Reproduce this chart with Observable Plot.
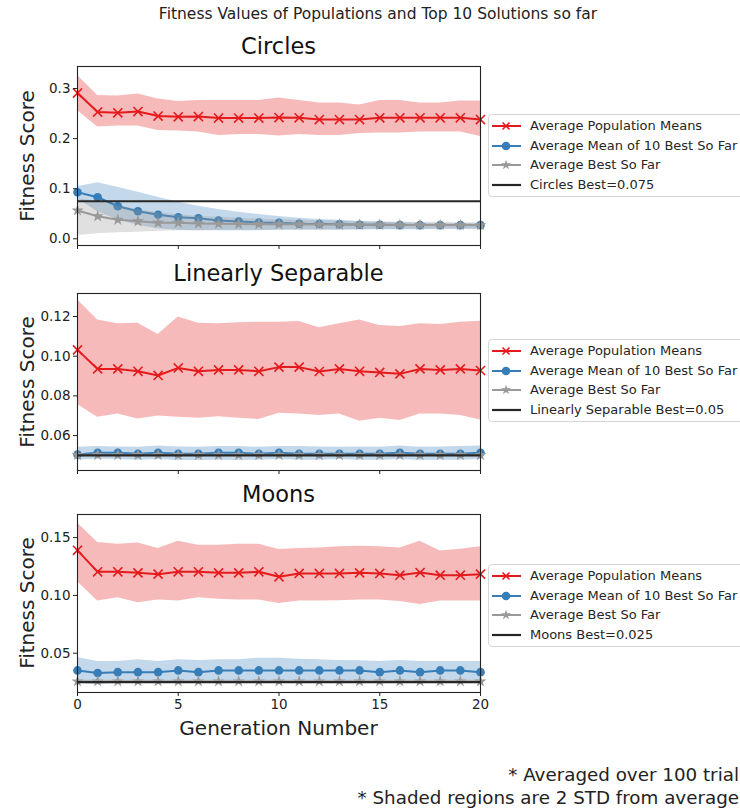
<!DOCTYPE html>
<html>
<head>
<meta charset="utf-8">
<script src="https://cdn.jsdelivr.net/npm/d3@7"></script>
<script src="https://cdn.jsdelivr.net/npm/@observablehq/plot@0.6"></script>
<style>
  html, body { margin: 0; padding: 0; background: #fff; }
  body { width: 740px; height: 809px; overflow: hidden; font-family: "DejaVu Sans", sans-serif; color: #222; }
  #wrap { position: relative; width: 740px; height: 809px; overflow: hidden; }
  .abs { position: absolute; white-space: nowrap; }
  .legend { position: absolute; left: 488px; width: 262px; border: 1px solid #d6d6d6; border-radius: 4px; background: rgba(255,255,255,0.85); box-sizing: border-box; }
  .legend .row { position: absolute; left: 2px; height: 20px; font-size: 13px; line-height: 20px; color: #262626; white-space: nowrap; }
  .legend .row svg { position: absolute; left: 0; top: 0; }
  .legend .row span { position: absolute; left: 39px; top: 0; }
</style>
</head>
<body>
<div id="wrap"></div>
<script>
// ---------- data ----------
const generations = [0,1,2,3,4,5,6,7,8,9,10,11,12,13,14,15,16,17,18,19,20];
const xTicks = [0, 5, 10, 15, 20];

// Circles
const circPopMean  = [0.291,0.253,0.2515,0.254,0.245,0.2435,0.244,0.241,0.241,0.241,0.242,0.2415,0.238,0.238,0.238,0.2415,0.2415,0.2415,0.2415,0.2415,0.238];
const circPopUpper = [0.326,0.286,0.285,0.289,0.279,0.274,0.276,0.276,0.276,0.276,0.281,0.276,0.271,0.271,0.267,0.276,0.276,0.271,0.271,0.275,0.275];
const circPopLower = [0.256,0.223,0.225,0.225,0.216,0.215,0.213,0.206,0.208,0.208,0.205,0.208,0.206,0.206,0.210,0.211,0.211,0.213,0.213,0.213,0.204];
const circTopMean  = [0.093,0.083,0.065,0.055,0.048,0.043,0.041,0.0366,0.0346,0.0326,0.032,0.030,0.0295,0.029,0.028,0.028,0.0273,0.0273,0.0273,0.0273,0.0273];
const circTopUpper = [0.104,0.112,0.103,0.093,0.083,0.073,0.065,0.0585,0.053,0.0486,0.0446,0.041,0.0386,0.037,0.0346,0.033,0.032,0.031,0.030,0.030,0.030];
const circTopLower = [0.080,0.054,0.038,0.027,0.020,0.017,0.016,0.016,0.016,0.016,0.017,0.017,0.017,0.017,0.018,0.018,0.018,0.018,0.019,0.019,0.019];
const circBestMean  = [0.0566,0.045,0.038,0.035,0.032,0.032,0.0306,0.030,0.0295,0.029,0.029,0.029,0.0286,0.0283,0.028,0.028,0.0277,0.0277,0.0275,0.0275,0.0273];
const circBestUpper = [0.080,0.075,0.066,0.058,0.052,0.048,0.045,0.043,0.041,0.039,0.038,0.037,0.036,0.035,0.034,0.034,0.033,0.033,0.033,0.032,0.032];
const circBestLower = [0.0067,0.010,0.012,0.013,0.015,0.016,0.016,0.017,0.017,0.017,0.018,0.018,0.018,0.018,0.018,0.019,0.019,0.019,0.019,0.019,0.019];
const circOptimum = 0.075;

// Linearly Separable
const linPopMean  = [0.1032,0.0936,0.0936,0.0924,0.0903,0.0941,0.0924,0.0931,0.0931,0.0924,0.0945,0.0945,0.0923,0.0936,0.0924,0.0918,0.0911,0.0936,0.0931,0.0936,0.0928];
const linPopUpper = [0.1284,0.1183,0.1163,0.1166,0.1109,0.1197,0.1166,0.1163,0.1168,0.1171,0.1171,0.1175,0.1143,0.1163,0.1183,0.1155,0.1150,0.1163,0.1160,0.1171,0.1176];
const linPopLower = [0.0756,0.0692,0.0709,0.0684,0.0699,0.0692,0.0687,0.0695,0.0687,0.0681,0.0713,0.0709,0.0701,0.0709,0.0672,0.0687,0.0676,0.0709,0.0709,0.0701,0.0679];
const linTopMean  = [0.0505,0.0513,0.0513,0.0508,0.0513,0.0508,0.0508,0.0513,0.0513,0.0508,0.0513,0.0508,0.0508,0.0508,0.0508,0.0508,0.0513,0.0508,0.0508,0.0508,0.0513];
const linTopUpper = [0.0541,0.0545,0.0543,0.0541,0.0547,0.0543,0.0541,0.0545,0.0545,0.0541,0.0545,0.0545,0.0543,0.0541,0.0543,0.0541,0.0547,0.0541,0.0543,0.0545,0.0547];
const linTopLower = [0.0476,0.0481,0.0479,0.0476,0.0479,0.0474,0.0474,0.0476,0.0474,0.0476,0.0479,0.0476,0.0476,0.0479,0.0476,0.0476,0.0479,0.0474,0.0476,0.0476,0.0479];
const linBestMean  = [0.0502,0.0502,0.0502,0.0502,0.0502,0.0502,0.0502,0.0502,0.0502,0.0502,0.0502,0.0502,0.0502,0.0502,0.0502,0.0502,0.0502,0.0502,0.0502,0.0502,0.0502];
const linBestUpper = [0.0508,0.0508,0.0508,0.0508,0.0508,0.0508,0.0508,0.0508,0.0508,0.0508,0.0508,0.0508,0.0508,0.0508,0.0508,0.0508,0.0508,0.0508,0.0508,0.0508,0.0508];
const linBestLower = [0.0497,0.0497,0.0497,0.0497,0.0497,0.0497,0.0497,0.0497,0.0497,0.0497,0.0497,0.0497,0.0497,0.0497,0.0497,0.0497,0.0497,0.0497,0.0497,0.0497,0.0497];
const linOptimum = 0.05;

// Moons
const moonPopMean  = [0.139,0.1204,0.1204,0.1195,0.1184,0.1204,0.1204,0.1195,0.1195,0.1204,0.1161,0.119,0.119,0.119,0.1195,0.119,0.1175,0.1198,0.1175,0.1175,0.1184];
const moonPopUpper = [0.1626,0.1457,0.1443,0.1454,0.1405,0.1468,0.1434,0.1434,0.1443,0.1443,0.1397,0.1405,0.1411,0.1420,0.1425,0.1420,0.1411,0.1468,0.1385,0.1400,0.1420];
const moonPopLower = [0.1118,0.0951,0.0980,0.0937,0.0960,0.0951,0.0980,0.0966,0.0960,0.0960,0.0931,0.0951,0.0951,0.0954,0.0960,0.0960,0.0948,0.0922,0.0951,0.0951,0.0951];
const moonTopMean  = [0.0351,0.0328,0.0336,0.0336,0.0336,0.0351,0.0336,0.0351,0.0351,0.0351,0.0351,0.0351,0.0351,0.0351,0.0351,0.0336,0.0351,0.0336,0.0351,0.0351,0.0336];
const moonTopUpper = [0.0463,0.0428,0.0428,0.0443,0.0428,0.0443,0.0437,0.0443,0.0443,0.0457,0.0457,0.0448,0.0443,0.0437,0.0434,0.0428,0.0437,0.0428,0.0428,0.0428,0.0428];
const moonTopLower = [0.0241,0.0227,0.0241,0.0241,0.0241,0.0247,0.0244,0.0247,0.0247,0.0247,0.0247,0.0247,0.0247,0.0247,0.0247,0.0244,0.0247,0.0244,0.0247,0.0247,0.0247];
const moonBestMean  = [0.0256,0.0256,0.0256,0.0256,0.0256,0.0256,0.0256,0.0256,0.0256,0.0256,0.0256,0.0256,0.0256,0.0256,0.0256,0.0256,0.0256,0.0256,0.0256,0.0256,0.0256];
const moonBestUpper = [0.0266,0.0266,0.0266,0.0266,0.0266,0.0266,0.0266,0.0266,0.0266,0.0266,0.0266,0.0266,0.0266,0.0266,0.0266,0.0266,0.0266,0.0266,0.0266,0.0266,0.0266];
const moonBestLower = [0.0246,0.0246,0.0246,0.0246,0.0246,0.0246,0.0246,0.0246,0.0246,0.0246,0.0246,0.0246,0.0246,0.0246,0.0246,0.0246,0.0246,0.0246,0.0246,0.0246,0.0246];
const moonOptimum = 0.025;

const panelTitles = ["Circles", "Linearly Separable", "Moons"];
const seriesLabels = ["Average Population Means", "Average Mean of 10 Best So Far", "Average Best So Far"];
const yTicksCircles = [0.0, 0.1, 0.2, 0.3];
const yTicksLinear = [0.06, 0.08, 0.10, 0.12];
const yTicksMoons = [0.05, 0.10, 0.15];
const figTitle = "Fitness Values of Populations and Top 10 Solutions so far";
const yLabel = "Fitness Score";
const xLabel = "Generation Number";
const notes = ["* Averaged over 100 trial", "* Shaded regions are 2 STD from average"];

const RED = "#e41a1c", BLUE = "#377eb8", GRAY = "#999999", BLACK = "#262626";

// ---------- layout ----------
const FRAME_L = 77, FRAME_R = 480;
const panels = [
  { title: panelTitles[0], top: 66, bottom: 245, domain: [-0.0134, 0.344], ticks: yTicksCircles, fmt: d3.format(".1f"),
    pop: [circPopMean, circPopUpper, circPopLower], top10: [circTopMean, circTopUpper, circTopLower], best: [circBestMean, circBestUpper, circBestLower],
    opt: circOptimum, optLabel: "Circles Best=" + circOptimum, legendTop: 114, showX: false },
  { title: panelTitles[1], top: 293, bottom: 470, domain: [0.0424, 0.1316], ticks: yTicksLinear, fmt: d3.format(".2f"),
    pop: [linPopMean, linPopUpper, linPopLower], top10: [linTopMean, linTopUpper, linTopLower], best: [linBestMean, linBestUpper, linBestLower],
    opt: linOptimum, optLabel: "Linearly Separable Best=" + linOptimum, legendTop: 339, showX: false },
  { title: panelTitles[2], top: 514, bottom: 692, domain: [0.016, 0.170], ticks: yTicksMoons, fmt: d3.format(".2f"),
    pop: [moonPopMean, moonPopUpper, moonPopLower], top10: [moonTopMean, moonTopUpper, moonTopLower], best: [moonBestMean, moonBestUpper, moonBestLower],
    opt: moonOptimum, optLabel: "Moons Best=" + moonOptimum, legendTop: 564, showX: true }
];

const wrap = document.getElementById("wrap");

function addText(txt, style) {
  const d = document.createElement("div");
  d.className = "abs";
  d.textContent = txt;
  Object.assign(d.style, style);
  wrap.appendChild(d);
  return d;
}

// figure title
addText(figTitle, { left: "0px", width: "740px", top: "5px", textAlign: "center", fontSize: "15.5px", color: "#222", paddingLeft: "16px", boxSizing: "border-box" });

function rows(arrs) {
  return generations.map((g, i) => ({ x: g, m: arrs[0][i], hi: arrs[1][i], lo: arrs[2][i] }));
}

panels.forEach((p) => {
  const mTop = 10;
  const mBottom = p.showX ? 34 : 10;
  const h = (p.bottom - p.top) + mTop + mBottom;
  const pop = rows(p.pop), top10 = rows(p.top10), best = rows(p.best);
  const chart = Plot.plot({
    width: 740,
    height: h,
    marginLeft: FRAME_L,
    marginRight: 740 - FRAME_R,
    marginTop: mTop,
    marginBottom: mBottom,
    style: { fontFamily: "DejaVu Sans, sans-serif", fontSize: "13.5px", color: "#222", background: "transparent", overflow: "visible" },
    x: { domain: [0, 20] },
    y: { domain: p.domain },
    marks: [
      Plot.areaY(pop, { x: "x", y1: "lo", y2: "hi", fill: RED, fillOpacity: 0.3 }),
      Plot.line(pop, { x: "x", y: "m", stroke: RED, strokeWidth: 2 }),
      Plot.dot(pop, { x: "x", y: "m", symbol: "times", r: 4.2, stroke: RED, strokeWidth: 1.6 }),
      Plot.areaY(top10, { x: "x", y1: "lo", y2: "hi", fill: BLUE, fillOpacity: 0.3 }),
      Plot.line(top10, { x: "x", y: "m", stroke: BLUE, strokeWidth: 2 }),
      Plot.dot(top10, { x: "x", y: "m", symbol: "circle", r: 4.3, fill: BLUE, stroke: "none" }),
      Plot.areaY(best, { x: "x", y1: "lo", y2: "hi", fill: GRAY, fillOpacity: 0.3 }),
      Plot.line(best, { x: "x", y: "m", stroke: GRAY, strokeWidth: 2 }),
      Plot.dot(best, { x: "x", y: "m", symbol: "star", r: 3.8, fill: GRAY, stroke: "none" }),
      Plot.ruleY([p.opt], { stroke: BLACK, strokeWidth: 2.2 }),
      Plot.frame({ stroke: "#222", strokeWidth: 1.1 }),
      Plot.axisY({ ticks: p.ticks, tickFormat: p.fmt, tickSize: 4, tickPadding: 3, label: null, fontSize: 13.5 }),
      Plot.axisX({ ticks: xTicks, tickSize: 4, tickPadding: 3, label: null, fontSize: 13.5,
        tickFormat: p.showX ? (d) => String(d) : () => "" })
    ]
  });
  chart.style.position = "absolute";
  chart.style.left = "0px";
  chart.style.top = (p.top - mTop) + "px";
  wrap.appendChild(chart);

  // panel title
  addText(p.title, { left: FRAME_L + "px", width: (FRAME_R - FRAME_L) + "px", top: (p.top - 33) + "px", textAlign: "center", fontSize: "22.5px", color: "#111" });

  // y label
  const mid = (p.top + p.bottom) / 2;
  const yl = addText(yLabel, { width: "170px", top: (mid - 13) + "px", textAlign: "center", fontSize: "20px", color: "#222", lineHeight: "26px", transform: "rotate(-90deg)", transformOrigin: "85px 13px" });
  yl.style.left = (27 - 85) + "px";

  // legend
  const lg = document.createElement("div");
  lg.className = "legend";
  lg.style.top = p.legendTop + "px";
  lg.style.height = "83px";
  const entries = [
    { label: seriesLabels[0], color: RED, sym: "times" },
    { label: seriesLabels[1], color: BLUE, sym: "circle" },
    { label: seriesLabels[2], color: GRAY, sym: "star" },
    { label: p.optLabel, color: BLACK, sym: null }
  ];
  entries.forEach((e, i) => {
    const r = document.createElement("div");
    r.className = "row";
    r.style.top = (i * 19.7 + 1) + "px";
    let symSvg = "";
    if (e.sym === "times") symSvg = `<path d="M11.5,6.5 L18.5,13.5 M18.5,6.5 L11.5,13.5" stroke="${e.color}" stroke-width="1.6"/>`;
    else if (e.sym === "circle") symSvg = `<circle cx="15" cy="10" r="4.3" fill="${e.color}"/>`;
    else if (e.sym === "star") symSvg = `<path d="${d3.symbol(d3.symbolStar, 32)()}" transform="translate(15,10)" fill="${e.color}"/>`;
    r.innerHTML = `<svg width="32" height="20"><line x1="1" y1="10" x2="30" y2="10" stroke="${e.color}" stroke-width="${e.sym ? 2 : 2.2}"/>${symSvg}</svg><span>${e.label}</span>`;
    lg.appendChild(r);
  });
  wrap.appendChild(lg);
});

// x label
addText(xLabel, { left: FRAME_L + "px", width: (FRAME_R - FRAME_L) + "px", top: "716px", textAlign: "center", fontSize: "20px", color: "#222" });

// notes
addText(notes[0], { right: "1px", top: "764px", textAlign: "right", fontSize: "18.3px", color: "#222" });
addText(notes[1], { right: "1px", top: "787px", textAlign: "right", fontSize: "18.3px", color: "#222" });
</script>
</body>
</html>
